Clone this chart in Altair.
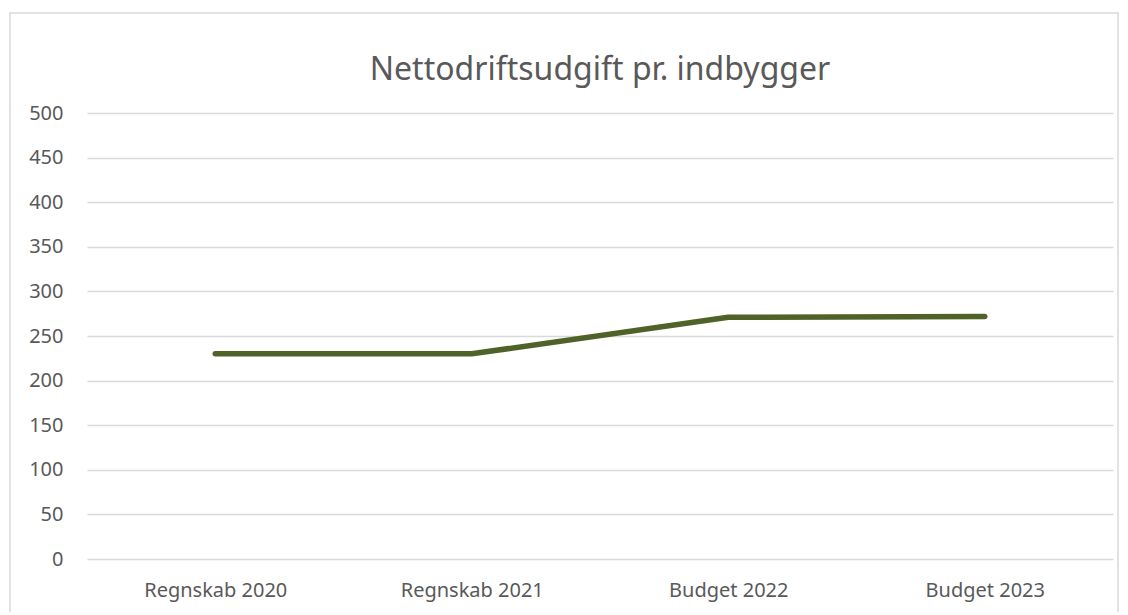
import altair as alt
import pandas as pd

categories = ["Regnskab 2020", "Regnskab 2021", "Budget 2022", "Budget 2023"]
values = [230, 230, 271, 272]
y_ticks = [0, 50, 100, 150, 200, 250, 300, 350, 400, 450, 500]

df = pd.DataFrame({"kategori": categories, "vaerdi": values})

FONT = "Noto Sans"
GREY = "#595959"

border = alt.Chart(pd.DataFrame({"a": [0]})).mark_rect(
    fill=None, stroke="#d9d9d9", strokeWidth=1.5, clip=False
).encode(
    x=alt.value(-77), x2=alt.value(1031), y=alt.value(-100), y2=alt.value(520)
)

line = alt.Chart(df).mark_line(
    color="#4F6228", strokeWidth=5.5, strokeCap="round", strokeJoin="round"
).encode(
    x=alt.X("kategori:N", sort=categories, title=None,
            axis=alt.Axis(labelAngle=0, ticks=False, domain=False, grid=False,
                          labelPadding=21, labelFontSize=20, labelColor=GREY,
                          labelFont=FONT)),
    y=alt.Y("vaerdi:Q", title=None,
            scale=alt.Scale(domain=[0, 500], nice=False),
            axis=alt.Axis(values=y_ticks, ticks=False, domain=False,
                          gridColor="#d9d9d9", gridWidth=1.5,
                          labelPadding=24, labelFontSize=20, labelColor=GREY,
                          labelFont=FONT)),
)

chart = alt.layer(border, line).properties(
    width=1026,
    height=446,
    title=alt.Title("Nettodriftsudgift pr. indbygger", fontSize=32,
                    font=FONT, color=GREY, fontWeight="normal", offset=-75),
    autosize=alt.AutoSizeParams(type="none"),
    padding={"left": 79, "top": 105, "right": 7, "bottom": 53},
).configure_view(stroke=None)

chart.save("out.html", embed_options={"renderer": "svg", "actions": False})
